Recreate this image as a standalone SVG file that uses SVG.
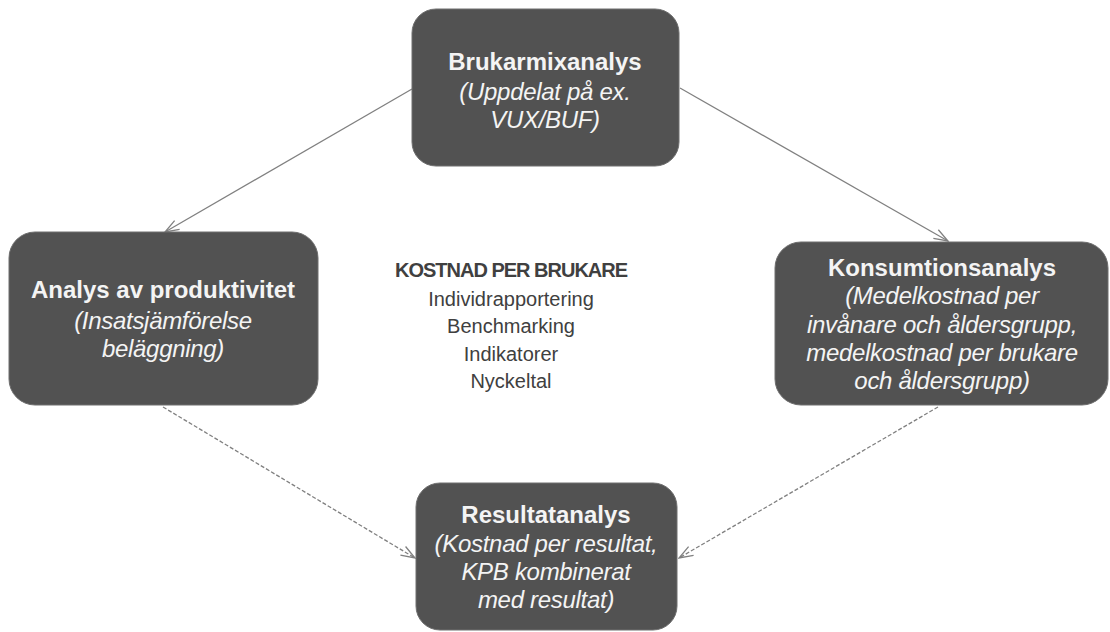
<svg xmlns="http://www.w3.org/2000/svg" width="1110" height="632" viewBox="0 0 1110 632">
<defs>
<style>
.box{fill:#525252;stroke:#6e6e6e;stroke-width:1}
.t{font-family:"Liberation Sans",Arial,sans-serif;fill:#f4f4f4;text-anchor:middle}
.b{font-weight:bold;font-size:24px}
.i{font-style:italic;font-size:24px;letter-spacing:-0.3px}
.c{font-family:"Liberation Sans",Arial,sans-serif;fill:#404040;text-anchor:middle;font-size:20px}
.cb{font-weight:bold;font-size:20px;letter-spacing:-1px}
.ln{stroke:#808080;stroke-width:1.3;fill:none}
.dash{stroke-dasharray:4 2}
</style>
<marker id="ah" viewBox="0 0 16 12" refX="15" refY="6" markerWidth="16" markerHeight="12" orient="auto" markerUnits="userSpaceOnUse">
<path d="M1,1 L15,6 L1,11" fill="none" stroke="#808080" stroke-width="1.3"/>
</marker>
</defs>
<rect width="1110" height="632" fill="#ffffff"/>
<g id="connectors">
<line class="ln" x1="412" y1="89" x2="165" y2="232" marker-end="url(#ah)"/>
<line class="ln" x1="680" y1="88" x2="948" y2="241" marker-end="url(#ah)"/>
<line class="ln dash" x1="163" y1="407" x2="415" y2="558" marker-end="url(#ah)"/>
<line class="ln dash" x1="938" y1="407" x2="679" y2="558" marker-end="url(#ah)"/>
</g>
<g id="brukarmix">
<rect class="box" x="412" y="9" width="267" height="157" rx="24"/>
<text class="t b" x="545" y="70">Brukarmixanalys</text>
<text class="t i" x="545" y="100">(Uppdelat på ex.</text>
<text class="t i" x="545" y="128">VUX/BUF)</text>
</g>
<g id="produktivitet">
<rect class="box" x="9" y="232" width="309" height="173" rx="26"/>
<text class="t b" x="163" y="298">Analys av produktivitet</text>
<text class="t i" x="163" y="329">(Insatsjämförelse</text>
<text class="t i" x="163" y="357">beläggning)</text>
</g>
<g id="konsumtion">
<rect class="box" x="775" y="242" width="333" height="163" rx="26"/>
<text class="t b" x="942" y="276">Konsumtionsanalys</text>
<text class="t i" x="942" y="304">(Medelkostnad per</text>
<text class="t i" x="942" y="333">invånare och åldersgrupp,</text>
<text class="t i" x="942" y="361">medelkostnad per brukare</text>
<text class="t i" x="942" y="389">och åldersgrupp)</text>
</g>
<g id="resultat">
<rect class="box" x="416" y="483" width="261" height="147" rx="24"/>
<text class="t b" x="546" y="523">Resultatanalys</text>
<text class="t i" x="546" y="552">(Kostnad per resultat,</text>
<text class="t i" x="546" y="580">KPB kombinerat</text>
<text class="t i" x="546" y="608">med resultat)</text>
</g>
<g id="kostnad">
<text class="c cb" x="511" y="277">KOSTNAD PER BRUKARE</text>
<text class="c" x="511" y="306">Individrapportering</text>
<text class="c" x="511" y="333">Benchmarking</text>
<text class="c" x="511" y="361">Indikatorer</text>
<text class="c" x="511" y="388">Nyckeltal</text>
</g>
</svg>
